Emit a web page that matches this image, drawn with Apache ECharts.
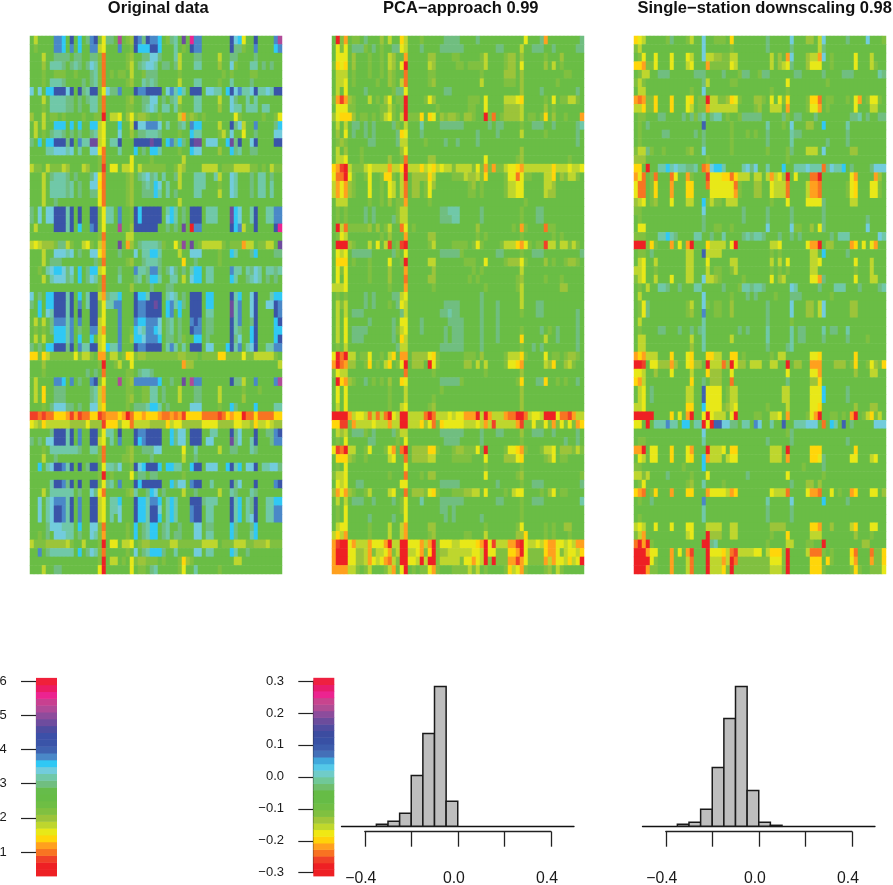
<!DOCTYPE html>
<html><head><meta charset="utf-8">
<style>html,body{margin:0;padding:0;background:#fff}#c{width:893px;height:885px}</style>
<script src="https://cdn.jsdelivr.net/npm/echarts@6/dist/echarts.min.js"></script>
</head><body><div id="c"></div>
<script>
// level legend: each character is one colour level
const levelChars = "RroOgylkj.tTcsbBdipme";
const levelColors = ["#EE2024","#F04028","#F87422","#FFA01E","#FFD60A","#E8E818","#BED62E","#9CC43A","#80C040","#6ABD45","#70BE80","#70C8A8","#72CCDC","#30C8F4","#4A88C8","#3F62B0","#3A54A8","#6E4C9E","#8E4C9C","#B04A98","#EC2490"];
const titles = ["Original data","PCA\u2212approach 0.99","Single\u2212station downscaling 0.98"];
const originalRows = [
".l....bbs. d.s.tbdjyt t.m.jkdbtd bbs.jtT.i. ebb....... dcsy..d... .bm",
".j....bbs. b.s..bbly. ..b..jdsss dds...T.j. dbb....... dttj..b... .sb",
"...l..tttt .tt..ttjo. ....jk..tt cct...Tl.. .tt....l.. tt....t... ...",
"...k.TTTt. tTt.tcTjo. ....jl.tTc cT.tt.tl.. .TT....k.. cj...TT.t. t..",
"...j..jjj. .j...tTjo. j.jj.l..jt tt.....j.. ........j. j....jj... ...",
"...j.TTTt. ...t.tTjo. ....jk..Tt Tt.....l.. .TT....j.. T....t.... ...",
"c.c.ssdddc d.dtTddjyc ttb...dbbd ddd.cbTsT. ddd.ccTT.s dcbTTcdTTc Tdd",
"...l.TTTTt t.t.tTTjo. ....jk..tt cc.t.tTl.. .TT....l.. ct..T.T... ...",
"...j.TTTTt t.t..TTjo. ....jj..tT cT.TT.Tj.. .TT....k.. cTT.TTT.TT ...",
"k..l.jj.j. ...j..jjR. lly.kyjkkj ..j....lOj kj.j...... .yj.....j. .jy",
".l.l..sss. s.s..ssly. ..s..ldccb bbc.T..tT. bss....l.. dtcl..b... .ts",
".l.j.tTTt. t.t..tTly. ..c..k.ttT TTt....j.. sTT....jl. c..y..t... .cc",
"t.s.ssdddt d.bTTiily. TTd...dddd idd.sbtst. dii.ccc..s itd..cd... .dd",
"....TTcccT c.T..ccyo. ..T...s.t. ssT....j.. scc....k.. stT..tt... ...",
".......... .......jo. .....y.... j.......l. .......... .......... ...",
"ljj.ljjjlk ...lk..jr. yy.lly.ljj jjjj..jlk. ...llll.jj jlllljj.j. ljj",
"...l.tTTTt .t...tcyo. ....jk.tTc tT.T..tl.. .TTT..Tl.. cT...t.TT. t..",
"...l.TTTTt T.t..ccgo. ....jk..tT tsc.T..l.. .TTT...j.. cT...t.TT. T..",
"...l.TTTTt T.t..ttyo. ....jk..tt tsT.T.t... .TT....l.. cT...t.TT. T..",
"...l..t... .......yo. ....jk.... .......l.. .......... .......... ...",
"t.c.ccdddT d.d..ddjyT T.b..jdsdd ddd.TsT.t. ddd.TTT... isc..Td..T Tbb",
"t.c.ccdddT d.d..ddjyT T.b..jdsdd ddd.csT.t. ddd.TTT... isc..Td..T Tbb",
".l....dddT d.s..bdjy. ..m..kdddd dd..t.t.i. Rbb....... dsbl..d... .de",
".......... .......jo. ....ll.... .......... .......... .......... ...",
"lylkkkjttl j..lyj.lO. ..i.Ok.tTT TTtj..yjp. i.jlllllj. jjjOll.jjl l.i",
"...l..cccT c.t..ccyO. ..t...c.TT ssT....l.. ccc....j.. sT...ts... .tt",
"...l.ttt.. ......tjo. ....jk..tT TTt.....g. .t.....j.. .......... ...",
"..j.Tcssct c.s.tssly. ..t...bTTt bbt.tct.t. Tss.TT.... bTT.TtcT.T TtT",
"...l.Tccct T.s.tcTjo. ..T...tT.t ssT..TT.l. css.TT.... sT..tTcT.t .t.",
".......... .......jo. .....k.... t...tt.... .......... .......... ...",
"c.t.ssdddT d.s.TddlOt TTs...dssT ddd.TcT.t. ddd.ss.... dTs..cd... Tss",
"t.s.ssdddT d.b.TddjyT Tbb...dbbd did.sbTst. ddd.ss.... iTb..cd..c cdb",
"..s.cTdddT d.d..ddjy. ..b...dbbd ddd.sb.s.. ddd.TT.... iTb..cd... .db",
".l.l.tbbbT b.b..ddly. ..b...bssb bbc.tT.t.. bdb.tt.... dTb..td... .sd",
".j.j.tsssT b.t..bblO. ..b..jscTb bsc.tT.t.. dbb.tt.... dTt..sd... .ss",
".l.l..sssT b.s..s.ly. ..b..ksscb bbs.tt.tj. .ss.t..... dtc..sd... .sd",
"t.t.ssdddt d.bTTddlys TTb...dbbd ddd.TbT.T. ddd.cc...s dTb.Tcd..T Tbb",
"ggjgljjjjj jyjllj.OO. ll.jgyjkkj jjjjjjjkkj jj.jjjjggj jjjyjjllll lj.",
"...k...... .......jR. .jl..y.... ........Ok k......... .......... ..l",
"...j...... ....t.t.o. ....jj.tTT t......... .......... .......... ...",
".l....bbs. b.t..bdjy. ..m.jkbbbb bbs..t..i. mbb....... dttl..b... .bm",
".l.g..ttt. .....tTlO. ....jj..jj TT.t...l.. .tt....l.. ...j...j.. ...",
".l.g..ttt. .....tTlO. ....jk..jj TT.t...l.. .tt....l.. ...k...... ...",
"...j.tccct t.t..cclg. ....j.tttT ssT.t..... ccc....j.. st....s... .TT",
"rroroogggO rOrooggroO OOgORoggOg ggOooOoOrg gggoooorog OggRoogooo ogg",
"ylkgllllll kkkkykkkrg ggkyyollll kkkkglyykk kkkyyyykkk kyyllkglly lkk",
".....tdddT d.b..ddjyT T.d...dbbd ddd..stcc. ddd..TT... dtc...d..t tbd",
"t.t.ccdddT d.b..ddly. T.b...dsbd ddd..stcc. ddd.cc.... itc..Td... tbb",
"...j.TTTTT TTt..TTjo. ....jk..tt tcc.....y. .T.....l.. tt...Tt... ...",
"...l..t... .......jo. ...jjk.... t.......l. .t........ .......... ...",
"..s.TcddbT d.d.tdd.yT Ttc..jdcsd dds.ssTT.. sdd.ccc..s dTs.ccd.TT cct",
".......... .......jR. j....y.tt. tt......j. .......... .......... ...",
".....Tddbt d.d..ddjyt T.b...dsdd ddd..stcc. bdd..T.... dtc...d... .bd",
"...l.TTTTT T.t..ctyo. ....jkT..t sc.t....l. .t.....l.. Tt...Tt... ...",
"..c.TcbbbT d.b..ddly. TTs...dssT bbs.TsT... dddtTTT... dTs.Ttd..T Tss",
"..c.TcddbT d.b..ddly. TTc...dssT ddc.TsT... bdd.TT.... dTs.Ttd..T Tbb",
"..c.TcddbT d.b..ddly. T.c...dssT dds.TsT... bdd.TT.... dTs.Tcd..T Tbb",
"....tcccTT T.s..ccjo. ....j.s.tT ss.tT..t.. .cc.tt.... st...ts... ...",
"..j.t.cccT T.t..cTjO. ....j.s.tT ss.tT.tt.. .cc.TT.... st...Ts... ...",
"ljjjkkkkkl j..l...jR. yy.lly.jkk jjjjjlljjj jjjllll.jj jllljjkkkl jjj",
"..b.tTTTTT T.s.tcTjo. ....j.c.tT ssst..T... .cc.TT.... sT..t..... ...",
".......... .......jR. ll.j.yjkkj jj.j...jgk j......... .ll....... ...",
"...l..tt.. .......yR. .....y.jj. tT.....jy. .T.....j.. .......... ..."
];
const pcaRows = [
".RjO.jj.t. ..k.l..gl. ..j.....tt tt....t... ........y. ..tO...... ..t",
".yjy.tttj. t.j..ttyl. ..t....ttt ttt....... .tt....l.. ttt..t.... .tt",
".yyy.k...j ..j.lk..O. ....kk.... jj.....jl. ...jkk.k.. ...j...k.. ...",
"jgyg.k...j ..j.lk.yR. ....lk.... .jj.jjjjl. ...jkk.y.. ...k.l.j.. ...",
".lll.j...j ..j.kj..o. ....jj.... .......j.. ...kkk.k.. ........jj ...",
".lly.j.... .j..kj.lo. ....jk.... .......l.. ...jjj.k.. ......j... ...",
".l.y....t. .....jtty. ........tt .......... .......k.. ..t....... .t.",
"jOrOkj...l .j.ky.jjR. ...jyk.... ....jjj.y. ...lllyg.. ...j.y.jjl lj.",
".yyyjj.... ..jjlj.jR. ......j... ....jj..y. ...kkkkl.. ...k.j.... ...",
"kygggk.jj. j.jlyj.lRj jjg.gy.kjk kj.kkj..Rj o.jkkkkl.j j.jg.k..j. ..O",
".l.l.tt.t. t....tj.l. ..T....ttt ttt......t .tt....j.. ttt..t.... .tT",
".k.y.t..t. t.....tgy. ..t....... ......t... .t.....l.. ...j...... .t.",
".jkj.....t t.....tll. ...j....t. .t....t... .......... .......... .t.",
".l.k...j.. .......ky. .......... .......... .......k.. .......... ...",
".lly...j.. ....k..jo. ....kk.... ........y. ......jk.. .........j ...",
"gOrRljjjly llllOllgRl llglyglyll jlllljyjOj OjjlyygOll lllllgllly lly",
"yooRyj..jy ..jggj.lR. kkkkgl.... jjjlkkljg. ...jyyoyjj ...llg.kjl lj.",
"lOyOkj...y ..j.yl.lo. kk.jyk.... ....jk.j.. ...jllyy.. ...llk.... ...",
"lOyOkj...y ..j.yl.lo. kk.jy..... ....jj.j.. ...jllyy.. ...lkk.... ...",
".lll.....j ..j.k.jjO. ....j..... .......... ........j. .......... ...",
".j.j....t. t.....jll. .......ttT TT.....t.. .......j.. .tt....... ...",
".j.j....t. t....tjll. .......ttt TT.....t.. .......j.. .tt....... ...",
".Rlojjjjjk .k.jl..oy. j......... ......k... .....j.Oj. ...ojj.... ...",
".jyl...... ..j.k...O. ....kk.... ......j.j. .......j.. .....j.j.. ...",
".RRRkj...l .y.lr.jrR. ....jl.... jjjj.jyj.. ..jlllgOyj .jjrll.llj lj.",
".yly.ttttt .....tj.y. .......ttt ttj....... .tt....j.. ttt....... ..t",
".ggg.j...j ....y..jR. ....ll.... ...jjj..y. ...jkkkyj. ...k.j..jk kj.",
".yjy.....j ....k...O. .....k.... .....j.j.. .......l.. .......... ...",
".y.y.....j ....k...o. ....kk.... ....j.j... ......jk.. ...j...j.. ...",
"llly...... ....j...O. .....j.... ........j. ......jl.. .......kk. ...",
".j.j....t. t....ttly. .......... .......t.. .......l.. .......... ...",
".ljl....t. t...j.tyl. ........tt tt.....t.. .t.....l.. .tt....... ...",
".l.l.ttt.. .......tl. .......ttT tt.....t.. .t.....j.. .tt....... .t.",
".l.y.....t .....t.yy. ..t......t ttt....t.. .t........ .......... .t.",
".l.y.tttt. .....tjly. ..t.....t. ttt....t.. .t.....j.. ..t.j.t... .t.",
".l.y.ttt.. .....t.gl. ........t. ttt....t.. .t.....g.. ...l..t... .t.",
".j.l...... ......tll. .......ttt ttt....t.. .......j.. t.t....... .t.",
"yRoRll.jjy ..j.lg.OO. kkkkygj... ...jjj.k.. ...jlllgj. ...y.jj.jk kj.",
"ORoOkk..jg .j.lg.jyR. kkk.Ryj... ...kk.l.l. ...jyygO.. ...lkg..kl j..",
"jyll...... ........o. .....j.... ........j. .......k.. .......... ...",
".RgOkj..t. j.j.k..gy. .......ttt ttj....... ......jg.. .ttg..j.j. .t.",
".y.y...... ....j...l. .......j.. .......... .......k.. .......... ...",
".y.y...... ....j...l. .....j.... .......... .......k.. .......... ...",
".l.y...... ....j..ly. ....jk.... .......... .......k.. .......... ...",
"RRRROlyylo loloRylRRl llloRollly lyyOOORlRO lllOooRRol yylRRRyoor Oll",
"ggrrjOllll ylllOllRRl llgkyojgyy yyylllylOl rlllllOrjj yjjyjOjyjy jOg",
".lkl.tttj. t....tjll. .......ttt ttt....t.. .tt....k.. ttt..t.... .t.",
".j.y.....t t.....j.y. ........tt tt.....t.. .......j.. ........t. .t.",
"yroRll..jy ...jyO.oR. kkkkggj... jkkjjjy.R. ...jyygOj. ..jlly.kkk jlj",
".gggkj..j. ....ly..o. kkkkll.... jjjjj...y. ...kkkyg.. ...jky.jj. ...",
".j.y...... ........y. .......... ........j. .......j.. .......... ...",
"jlly...... ....j...o. ..j.kk.... ........y. ......jk.. .......... ..j",
".yly..tt.. .......yy. .......ttt tt........ .t.....j.. ttt....... ..t",
"kOyOkj..jl ....ly..o. kkkjygj... jjjkkll.y. ...j.lyy.. ..j.ky.jj. ...",
".l.l.ttt.. t....t.jy. ..T....ttt ttt....... .tt....j.. ttt....... ..T",
".j.y...... .......jy. .......tt. t......... .......j.. .......... ...",
".j.y.....t .....t..y. ........t. t......t.. .......j.. .......... ...",
".lyy.....j ....l..lO. ....kk.... ........j. ......jy.. ...j.j..kk ...",
"lglO.....j ....l..lO. ....jk.... ...jj...l. ......kkg. ...j.j...j ...",
"OrRRyOlllO yyyORllRRy yyOlORjyyy llyyyygORy rlllOOrRyl lylgOOyyly lOO",
"ORRRyykklO jllyOjlRRl lyOjgRjkkl lllllyylRy yjjjggORyj jjjgOOyjly ylg",
"ORRRyykklO ylyOoljRRy ylRlRRjlll lljyyOylRj RjjjOOrOyj jjjOlOyylg lyR",
"OOOOllj.jl ...jlO.yR. j.jjyOj... jjjjljl.j. ...jglyOj. ...jk.lj.. ..."
];
const singleRows = [
"gyl.....jt ...jl..c.. jjj.g..... ...t.....c ...kk.lc.. ...t....c. ..j",
"jl........ .......c.. ....j..... ...t.....t ......lt.. .......... ...",
".jy..y...y ...yl..cll kkjjll.... ....l.k.Oc ...kllOc.j .....y...l ...",
"ggOjjy...y ...ly...Oj jjjjyl.... ....l.klyt ...kyyy..j .....y...l j..",
".jll..ttt. .....ttt.. ..t...jtt. .jtt...... tt.....t.. ..ttt..... .Tt",
"jlj....... .......tl. ....jj.... ........y. ........j. .......... ...",
".ll....... ....j..c.. .......... ....j...j. .......... .......... ...",
"OoOjjg...g ...yg.jjRl ljjkgyj... kkj.y.yjg. ...jggo.jj ...j.yO.jy yj.",
"llgjjg...g ...yl.jjOl llllll.... jk..lll.O. ...jyyO.j. .....y...l l..",
".jj...tt.. ..t.tjtT.t TT.j..jttt tt.....tj. tt...t.... ....ttT.t. .tt",
".j.t...... .......B.. ....j..... ...T...j.c ...kk..s.. ...T...... ...",
".j.....tt. .....t.t.. ....j...j. j..t.....T tt........ ...t...... ...",
".j........ .......t.. ....j..... ...t.....T ........t. ...t...... ...",
"jlltj..j.. ...jk..c.. ....j..... ...j....jt ...lll.c.. ....kk.... ...",
"kkk....... ........j. .......... ........j. .......... .......... ...",
"gg.R..TTsT cTTttT.oOc ssT....Tct c..T...s.. TTTcTTTotc TTs.t....t ccc",
"Oyo.jo...o y..Oj...ry yyggoglll. ll.lOlykR. y...ooR... ....yO.... Ok.",
"yoo.jg...O ...gg...oy yyyyyoj... kk..ylllo. ...lOOo... ...jyg...y yj.",
"yoo.jg...O ...gg....y yyyyyOj... kk..ylllo. ...lOOo... ...jyg...y yj.",
"kly.jk...y ...ll..sjl jj.lll.... ....j...y. ...yyyyt.. ....ll.... ...",
"jj........ .......c.. .......t.. ...t.....t .......t.. .......... ...",
".j........ .......t.. .......t.. ...t.....t .......t.. ........t. ...",
".yy....... .......t.. jj..j..... ...c.....c jj..k.yt.. ........c. ...",
"jjj...TTsT t....TT..t ..T....tTt TTt...t..t .t.......t .TTT...... .cT",
"RRRjgj...O .y.OR...gl lll.yR.... ....lly... ...yOOR.kk ....Og.y.y O..",
".jj.t..... ...ll..Bll ll........ ....j.j... ....ll.s.. ...t...... ...",
".ly..l.... ...ll...y. ....ll.... ....l.l.y. ....lly... .....y...l ...",
"lly..j.... ...ll...l. jj..jl.... ....j.j.j. ....ll.... .....j...l ...",
"jly..l...y ...ll..cll kj.....j.. ....y.kl.. ....yyOt.. .....y...l l..",
".j.l..TTt. .t...TT... ..t...jTTt TTt......c T.....t... TTT...t... .tT",
".l........ .......c.. ....j...t. t....j...t tt.......j .......... ...",
".jyt...... ...jl..cj. jj..k..... ...t.....c ...kk.lc.. ....kk.... ...",
".jyt...... ...jk..b.. jj..k..... ...t.....c ...kk.lc.. ....kk.... ...",
".l........ .......T.. .......... ...t.....j .......... .......... ...",
".j....tt.. .t..t.tT.. ......t.t. ...T.....T .tt....T.t t..T...... ...",
".ll....... ....l..T.. ....l..... ...T.....T .tt....t.. ...t....j. ...",
".ll....... ....k..T.. .......... ...t....tT .......... .......... ...",
"OgOlll...g ...yg...gg ll..gg.j.. ....j.ll.. ....yyg... .....g.... ...",
"RRr.yykkkO k..ygkk.Rl llokRykk.l ll..ll..R. kk..OOO... kkk.jg..jy kjg",
"yyl..k...y ....l...gk kk..y..... ........y. ....yyO... .....k...l l..",
"gOl....... ....g..t.k kk..o..... ........t. ....kkg... .......... ...",
".ly.t..... ...ll..Byy yy.jll.... .......ll. ....yyys.. ...t...... ...",
".ly.t..... ...ll..Byy yy.jll.... .......ll. ....yyys.. ...t...... ...",
"lly....... ...gg..syy yyjkly.... ...j....l. ....yyg... .....k...k k..",
"RRRRR....g .y.OR..yRy lll.yR.... jj..lly.O. ...jyOR..j j.j.OR.jlg jl.",
"yy.R.TTTbT T.ss.TTRyR BBcctt.TT. bc..T..B.. TTTccc.o.s T.B.t..... ccc",
".......... .......c.. .......... ........jt .......... .......... ...",
".jj....... .......T.. .......... ...t.....t .......... ...t...... ...",
"OOR.yy...g ...yO...Rl lly.gg.... ....lll.R. ....ggg... .....g.... ...",
".yl.yy...g ...yg..sOl ll.lyy.... ....lll.O. ....ggyt.. ....yy...l y..",
"jj........ ..j....s.. .......... .......... ..j....t.. .......... ...",
"lljl....t. ....j...y. ........t. ........y. .......j.. .......... ...",
".jy....... ...jk..T.. ..j....... .........t ...kk.k... .......... ...",
"gOo.jg...O ...gg...Oy yyylOg.... ....ylllo. ...yOOo..y .j..Og...y y.k",
".j..t..... .......b.. .......... ...T.....c .......s.. ...t...... ...",
".......... .......T.. .......... ...t.....t .......... .......... ...",
".j........ .......T.. .......... ...t.....t .......... .......... ...",
"lyl..y...y ...yy...ll ll..ll.... ....kkkk.. ....ggO..k ....lg...y y..",
"jlO....... ...ly...Rk kk..ll.... ....j...g. ....lll... .....k...j ...",
"oRORj..... .......RRt T......... ...j....ll ...jj..R.. .......kk. ...",
"RRROyy...O .y.Or...Ry yyglorllll yy.lgggjR. ...loooj.j ....go...o jjg",
"RRRRyj...O ...lo...Rl llOlRojjjj jjjjyyyjR. ....ggg.gj ....yO...O jjg",
"RRROjj...O ...lo...Rl llgjRjjjjj jjjjllljR. ....gggj.. ....jgj..j jjy"
];
const colorbar1Edges = [0.3,0.5,0.7,0.9,1.1,1.3,1.5,1.7,1.9,2.1,2.3,2.5,2.7,2.9,3.1,3.3,3.5,3.7,3.9,4.1,4.3,4.5,4.7,4.9,5.1,5.3,5.5,5.7,5.9,6.1];
const colorbar1Colors = ["#EE2024","#EE2024","#F04028","#F87422","#FFA01E","#FFD60A","#E8E818","#BED62E","#9CC43A","#80C040","#6EBE44","#66BC46","#66BC4A","#70BE80","#70C8A8","#72CCDC","#30C8F4","#4A88C8","#3F62B0","#3A54A8","#3C50A8","#4E4CA0","#6E4C9E","#8E4C9C","#B04A98","#C84090","#EC2490","#EC1C64","#F0203A"];
const colorbar2Edges = [-0.31,-0.289,-0.269,-0.248,-0.227,-0.207,-0.186,-0.165,-0.145,-0.124,-0.103,-0.083,-0.062,-0.041,-0.021,0,0.021,0.041,0.062,0.083,0.103,0.124,0.145,0.165,0.186,0.207,0.227,0.248,0.269,0.289,0.31];
const colorbar2Colors = ["#EE2024","#EE2024","#F04028","#F87222","#FFA01E","#FFD20A","#F0E814","#C0D82C","#A0C63A","#80C040","#70BE44","#66BC46","#66BC46","#70BE6C","#70C898","#70CCC8","#54C8E8","#40A8DC","#4470B8","#3C5CAC","#3850A4","#3C4CA0","#504CA0","#6C4C9C","#8C4C9C","#B04C94","#C8448E","#EC2490","#E81C6C","#EE2040"];
const hist1Edges = [-0.35,-0.30,-0.25,-0.20,-0.15,-0.10,-0.05,0];
const hist1Counts = [2,5,13,51,93,140,25];
const hist2Edges = [-0.35,-0.30,-0.25,-0.20,-0.15,-0.10,-0.05,0,0.05,0.10];
const hist2Counts = [2,4,17,59,108,140,36,4,1];

const FONT = '"Liberation Sans", Arial, sans-serif';
function decode(rows){
  const out=[];
  rows.forEach((r,y)=>{
    const groups=r.split(' ');
    let x=0;
    groups.forEach((g,gi)=>{
      const len = gi===6?3:10;
      for(let k=0;k<len;k++){
        const ch = g[k]||'.';
        out.push([x,y,levelChars.indexOf(ch)]);
        x++;
      }
    });
  });
  return out;
}
const cats=[]; for(let i=0;i<63;i++) cats.push(String(i+1));

const grids=[],xAxes=[],yAxes=[],series=[];
function hiddenCat(g){
  xAxes.push({gridIndex:g,type:'category',data:cats,show:false,boundaryGap:true});
  yAxes.push({gridIndex:g,type:'category',data:cats,show:false,inverse:true,boundaryGap:true});
}
// heatmap panels
[[30,originalRows],[332,pcaRows],[634,singleRows]].forEach(([left,rows],i)=>{
  grids.push({left:left,top:36,width:252,height:538,outerBoundsMode:'none'});
  hiddenCat(i);
  series.push({type:'heatmap',xAxisIndex:i,yAxisIndex:i,data:decode(rows),progressive:0,animation:false,
    itemStyle:{borderWidth:0},emphasis:{disabled:true}});
});
// colour bars
function colorbar(left,top,height,min,max,interval,edges,colors,fmt){
  const g=grids.length;
  grids.push({left:left,top:top,width:21,height:height,outerBoundsMode:'none'});
  xAxes.push({gridIndex:g,type:'value',min:0,max:1,show:false});
  yAxes.push({gridIndex:g,type:'value',min:min,max:max,interval:interval,position:'left',
    splitLine:{show:false},
    axisLine:{show:true,lineStyle:{color:'#222',width:1.2}},
    axisTick:{show:true,length:15,lineStyle:{color:'#222',width:1.2}},
    axisLabel:{margin:29.3,color:'#1a1a1a',fontSize:13,fontFamily:FONT,formatter:fmt,showMinLabel:true,showMaxLabel:true}});
  const data=colors.map((c,i)=>[edges[i],edges[i+1],i]);
  series.push({type:'custom',xAxisIndex:g,yAxisIndex:g,clip:false,animation:false,silent:true,z:3,data:data,
    encode:{y:[0,1]},
    renderItem:(p,api)=>{
      const a=api.coord([0,api.value(0)]),b=api.coord([1,api.value(1)]);
      return {type:'rect',shape:{x:a[0],y:b[1],width:b[0]-a[0],height:a[1]-b[1]+0.5},
        style:{fill:colors[api.value(2)],stroke:null}};
    }});
}
colorbar(36,681.3,170.7,1,6,1,colorbar1Edges,colorbar1Colors,v=>String(Math.round(v)));
colorbar(313.3,681,191.7,-0.3,0.3,0.1,colorbar2Edges,colorbar2Colors,v=>{
  const s=Math.abs(v).toFixed(1); return (v<-1e-9?'\u2212':'')+s;});
// histograms
function hist(left,axisLeft,edges,counts){
  const g=grids.length;
  grids.push({left:left,top:686.6,width:232.5,height:139.7,outerBoundsMode:'none'});
  xAxes.push({gridIndex:g,type:'value',min:-0.5,max:0.5,interval:0.5,
    axisLine:{show:true,onZero:false,lineStyle:{color:'#111',width:1.3}},axisTick:{show:false},axisLabel:{show:false},splitLine:{show:false}});
  yAxes.push({gridIndex:g,type:'value',min:0,max:140,show:false});
  const data=counts.map((c,i)=>[edges[i],edges[i+1],c]);
  series.push({type:'custom',xAxisIndex:g,yAxisIndex:g,clip:false,animation:false,silent:true,data:data,z:3,
    encode:{x:[0,1],y:2},
    renderItem:(p,api)=>{
      const a=api.coord([api.value(0),0]),b=api.coord([api.value(1),api.value(2)]);
      return {type:'rect',shape:{x:a[0],y:b[1],width:b[0]-a[0],height:a[1]-b[1]},
        style:{fill:'#BEBEBE',stroke:'#1a1a1a',lineWidth:1.5}};
    }});
  const h=grids.length;
  grids.push({left:axisLeft,top:830.7,width:186.2,height:1,outerBoundsMode:'none'});
  xAxes.push({gridIndex:h,type:'value',min:-0.4,max:0.4,interval:0.2,position:'bottom',
    axisLine:{show:true,onZero:false,lineStyle:{color:'#222',width:1.3}},
    axisTick:{show:true,length:15,lineStyle:{color:'#222',width:1.3}},
    axisLabel:{margin:39,color:'#1a1a1a',fontSize:15.8,fontFamily:FONT,showMinLabel:true,showMaxLabel:true,padding:[0,8,0,0],
      formatter:v=>{const a=Math.abs(v);
        if(a<1e-9) return '0.0';
        if(Math.abs(a-0.4)<1e-9) return (v<0?'\u2212':'')+'0.4';
        return '';}},
    splitLine:{show:false}});
  yAxes.push({gridIndex:h,type:'value',min:0,max:1,show:false});
}
hist(341.5,364.8,hist1Edges,hist1Counts);
hist(642.5,665.8,hist2Edges,hist2Counts);

const chart=echarts.init(document.getElementById('c'),null,{renderer:'canvas',width:893,height:885});
chart.setOption({
  animation:false,
  backgroundColor:'#ffffff',
  title:titles.map((t,i)=>({text:t,left:[158.3,460.8,764.7][i],top:0,padding:0,textAlign:'center',
    textStyle:{fontFamily:FONT,fontWeight:'bold',fontSize:16.5,color:'#111'}})),
  visualMap:{show:false,type:'continuous',seriesIndex:[0,1,2],dimension:2,min:0,max:levelColors.length-1,inRange:{color:levelColors}},
  tooltip:{show:false},
  grid:grids,xAxis:xAxes,yAxis:yAxes,series:series
});
</script></body></html>
